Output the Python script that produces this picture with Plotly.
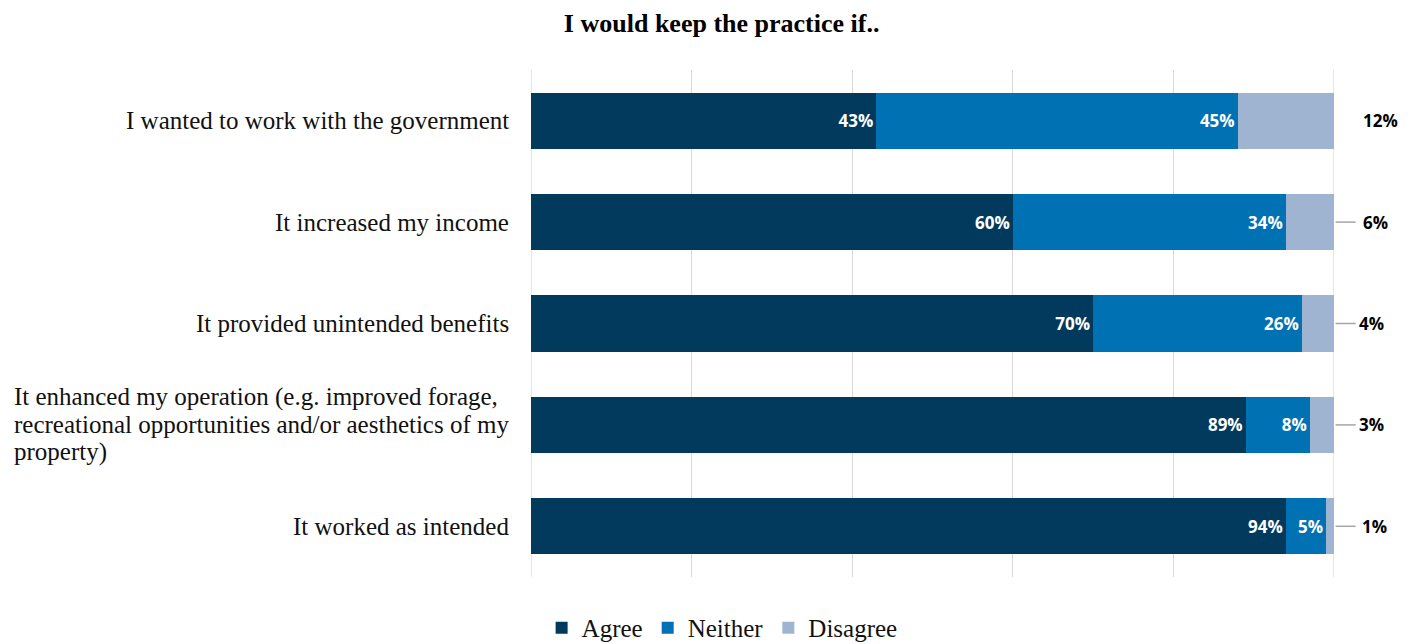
import plotly.graph_objects as go

categories = [
    "I wanted to work with the government",
    "It increased my income",
    "It provided unintended benefits",
    "It enhanced my operation (e.g. improved forage,<br>recreational opportunities and/or aesthetics of my<br>property)",
    "It worked as intended",
]
agree = [43, 60, 70, 89, 94]
neither = [45, 34, 26, 8, 5]
disagree = [12, 6, 4, 3, 1]
# horizontal offset (px) of each outside "Disagree" label, and whether it has a leader line
label_shift = [46, 41, 37, 37, 40]
leader = [False, True, True, True, True]

c_agree = "#023A5D"
c_neither = "#0071B2"
c_disagree = "#9FB4D1"

fig = go.Figure()
bar_font = dict(family="Open Sans", size=17, color="white")
fig.add_trace(go.Bar(
    y=categories, x=agree, orientation="h", name="Agree",
    marker=dict(color=c_agree, line=dict(width=0)),
    text=[f"<b>{v}%</b>" for v in agree], textposition="inside",
    insidetextanchor="end", textfont=bar_font, textangle=0,
))
fig.add_trace(go.Bar(
    y=categories, x=neither, orientation="h", name="Neither",
    marker=dict(color=c_neither, line=dict(width=0)),
    text=[f"<b>{v}%</b>" for v in neither], textposition="inside",
    insidetextanchor="end", textfont=bar_font, textangle=0,
))
fig.add_trace(go.Bar(
    y=categories, x=disagree, orientation="h", name="Disagree",
    marker=dict(color=c_disagree, line=dict(width=0)),
    textposition="none",
))

# edge gridlines at 0% and 100%
for xv in (0, 100):
    fig.add_shape(
        type="line", xref="x", yref="paper", x0=xv, x1=xv, y0=0, y1=1,
        line=dict(color="#D9D9D9", width=1.3), layer="below",
    )

# category labels
cat_font = dict(family="Liberation Serif", size=25, color="#111111")
line_gap = 27.5
for cat in categories:
    lines = cat.split("<br>")
    n = len(lines)
    if n == 1:
        fig.add_annotation(
            x=0, y=cat, xref="x", yref="y", text=cat, showarrow=False,
            xanchor="right", yanchor="middle", xshift=-20, font=cat_font,
        )
    else:
        for i, ln in enumerate(lines):
            fig.add_annotation(
                x=-0.6463, y=cat, xref="paper", yref="y", text=ln, showarrow=False,
                xanchor="left", yanchor="middle",
                yshift=-(i - (n - 1) / 2) * line_gap, font=cat_font,
            )

# outside Disagree labels + leader lines
for cat, v, s, ld in zip(categories, disagree, label_shift, leader):
    fig.add_annotation(
        x=100, y=cat, xref="x", yref="y", text=f"<b>{v}%</b>", showarrow=False,
        xanchor="center", yanchor="middle", xshift=s,
        font=dict(family="Open Sans", size=17, color="black"),
    )
    if ld:
        fig.add_shape(
            type="line", xref="paper", yref="y",
            x0=1.002, x1=1.027, y0=cat, y1=cat,
            line=dict(color="#A6A6A6", width=1.5),
        )

fig.update_layout(
    barmode="stack",
    bargap=0.445,
    width=1415, height=644,
    margin=dict(l=531, r=81, t=70, b=67, autoexpand=False),
    plot_bgcolor="white", paper_bgcolor="white",
    title=dict(
        text="<b>I would keep the practice if..</b>",
        x=0.51, xanchor="center", y=0.965, yanchor="middle",
        font=dict(family="Liberation Serif", size=26, color="black"),
    ),
    legend=dict(
        orientation="h", x=0.238, xanchor="center",
        yref="container", y=0.025, yanchor="middle",
        font=dict(family="Liberation Serif", size=25, color="#111111"),
        traceorder="normal", itemwidth=30,
    ),
    xaxis=dict(
        range=[0, 100], dtick=20, showticklabels=False,
        showgrid=True, gridcolor="#D9D9D9", gridwidth=1.3, zeroline=False,
        fixedrange=True,
    ),
    yaxis=dict(
        categoryorder="array", categoryarray=categories[::-1],
        showticklabels=False, showgrid=False, zeroline=False,
    ),
    uniformtext=dict(minsize=10, mode="show"),
)

fig.write_html("out.html")
